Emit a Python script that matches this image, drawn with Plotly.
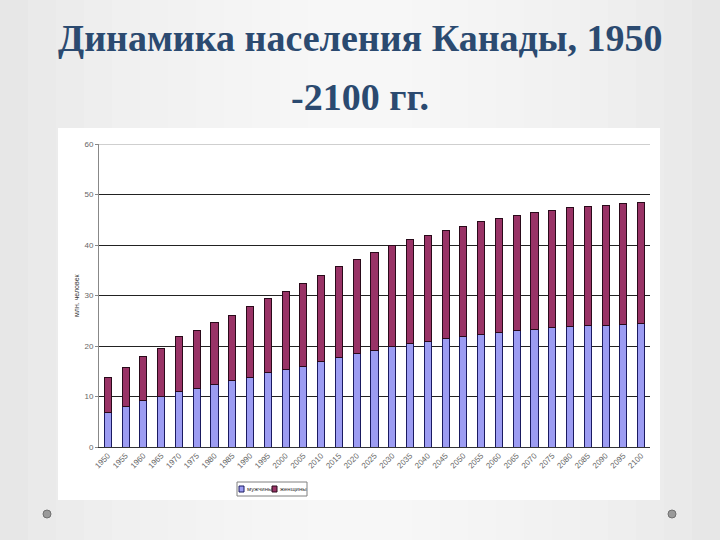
import plotly.graph_objects as go

# годы и численность населения (млн. человек)
years = [1950, 1955, 1960, 1965, 1970, 1975, 1980, 1985, 1990, 1995, 2000,
         2005, 2010, 2015, 2020, 2025, 2030, 2035, 2040, 2045, 2050, 2055,
         2060, 2065, 2070, 2075, 2080, 2085, 2090, 2095, 2100]
total = [13.8, 15.8, 18.0, 19.6, 21.8, 23.1, 24.6, 26.0, 27.9, 29.4, 30.8,
         32.3, 34.0, 35.7, 37.2, 38.6, 40.0, 41.0, 41.9, 42.9, 43.7, 44.6,
         45.2, 45.8, 46.4, 46.9, 47.4, 47.6, 47.9, 48.2, 48.4]
men = [6.9, 8.1, 9.2, 10.0, 11.0, 11.6, 12.4, 13.1, 13.8, 14.7, 15.3,
       16.0, 16.9, 17.7, 18.6, 19.2, 19.9, 20.4, 20.9, 21.4, 21.9, 22.3,
       22.7, 23.1, 23.3, 23.7, 23.9, 24.0, 24.1, 24.3, 24.4]
women = [round(t - m, 1) for t, m in zip(total, men)]

y_ticks = [0, 10, 20, 30, 40, 50, 60]

W, H = 720, 540
L, R, T, B = 99, 650, 144, 447  # область построения в пикселях


def px(x):
    # пиксели -> координаты paper (относительно области построения)
    return (x - L) / (R - L)


def py(y):
    return (B - y) / (B - T)


fig = go.Figure()

# мужчины
fig.add_trace(go.Bar(
    x=years, y=men, name='мужчины', width=2.0,
    marker=dict(color='#9c9cf2', line=dict(color='#1a1a60', width=1)),
))
# женщины
fig.add_trace(go.Bar(
    x=years, y=women, name='женщины', width=2.0,
    marker=dict(color='#993366', line=dict(color='#2a0a1a', width=1)),
))

shapes = []

# фон слайда (имитация градиента)
for i in range(12):
    inset = i * 28
    shapes.append(dict(type='rect', xref='paper', yref='paper', layer='below',
                       x0=px(inset), x1=px(W - inset), y0=py(H), y1=py(0),
                       fillcolor='white', opacity=0.12, line_width=0))

# белая подложка диаграммы
shapes.append(dict(type='rect', xref='paper', yref='paper', layer='below',
                   x0=px(58), x1=px(660), y0=py(500), y1=py(128),
                   fillcolor='white', line_width=0))

# верхняя граница (60)
shapes.append(dict(type='line', xref='paper', yref='y', layer='above',
                   x0=0, x1=1, y0=60, y1=60, line=dict(color='#a0a0a0', width=1)))

# легенда
shapes.append(dict(type='rect', xref='paper', yref='paper',
                   x0=px(237), x1=px(307), y0=py(496), y1=py(482),
                   fillcolor='white', line=dict(color='#808080', width=1)))
shapes.append(dict(type='rect', xref='paper', yref='paper',
                   x0=px(239), x1=px(244), y0=py(492), y1=py(486),
                   fillcolor='#9c9cf2', line=dict(color='#1a1a60', width=1)))
shapes.append(dict(type='rect', xref='paper', yref='paper',
                   x0=px(272), x1=px(277), y0=py(492), y1=py(486),
                   fillcolor='#993366', line=dict(color='#2a0a1a', width=1)))

# декоративные точки слайда
for cx in (47, 672):
    shapes.append(dict(type='circle', xref='paper', yref='paper',
                       x0=px(cx - 4), x1=px(cx + 4), y0=py(518), y1=py(510),
                       fillcolor='#9a9a9a', line=dict(color='#707070', width=1)))

title_font = dict(family='Liberation Serif, serif', size=38, color='#2b4a70')
small_font = dict(family='Liberation Sans, sans-serif', size=6, color='#333333')

annotations = [
    dict(text='<b>Динамика населения Канады, 1950</b>', xref='paper', yref='paper',
         x=px(360), y=py(38), showarrow=False, xanchor='center', yanchor='middle',
         font=title_font),
    dict(text='<b>-2100 гг.</b>', xref='paper', yref='paper',
         x=px(360), y=py(97), showarrow=False, xanchor='center', yanchor='middle',
         font=title_font),
    dict(text='млн. человек', xref='paper', yref='paper', textangle=-90,
         x=px(76), y=py(295), showarrow=False, xanchor='center', yanchor='middle',
         font=dict(family='Liberation Sans, sans-serif', size=7, color='#333333')),
    dict(text='мужчины', xref='paper', yref='paper',
         x=px(245), y=py(489), showarrow=False, xanchor='left', yanchor='middle',
         font=small_font),
    dict(text='женщины', xref='paper', yref='paper',
         x=px(278), y=py(489), showarrow=False, xanchor='left', yanchor='middle',
         font=small_font),
]

fig.update_layout(
    width=W, height=H,
    barmode='stack',
    showlegend=False,
    paper_bgcolor='#e4e4e4',
    plot_bgcolor='white',
    margin=dict(l=L, r=W - R, t=T, b=H - B),
    font=dict(family='Liberation Sans, sans-serif', size=8, color='#555555'),
    xaxis=dict(
        range=[1947.5, 2102.5],
        tickvals=years,
        ticktext=[str(y) for y in years],
        tickangle=-45,
        tickfont=dict(size=8, color='#666666'),
        showgrid=False,
        zeroline=False,
        showline=True, linecolor='#333333', linewidth=1,
        ticks='',
    ),
    yaxis=dict(
        range=[0, 60],
        tickvals=y_ticks,
        tickfont=dict(size=8, color='#666666'),
        showgrid=True, gridcolor='#222222', gridwidth=1,
        zeroline=False,
        showline=True, linecolor='#888888', linewidth=1,
        ticks='outside', ticklen=3, tickcolor='#888888',
    ),
    shapes=shapes,
    annotations=annotations,
)

fig.write_html("out.html", config={'displayModeBar': False},
               post_script="document.body.style.margin='0';")
